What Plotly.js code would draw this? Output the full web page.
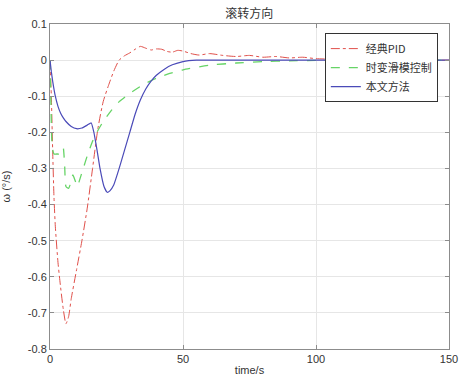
<!DOCTYPE html>
<html>
<head>
<meta charset="utf-8">
<script src="https://cdn.plot.ly/plotly-3.0.1.min.js"></script>
<style>html,body{margin:0;padding:0;background:#fff;}#chart{width:459px;height:376px;}</style>
</head>
<body>
<div id="chart"></div>
<script>
const seriesNames = ["经典PID", "时变滑模控制", "本文方法"];

const pidT = [0,0.5,1,1.5,2,3,4,5,6,7,8,10,12,14,16,18,20,22,24,26,28,30,32,34,36,38,40,42,44,46,48,50,53,56,60,65,70,75,80,85,90,95,100,110,120,130,140,150];
const pidV = [0,-0.1,-0.25,-0.38,-0.46,-0.56,-0.63,-0.69,-0.73,-0.71,-0.66,-0.58,-0.5,-0.41,-0.3,-0.19,-0.115,-0.07,-0.03,0.0,0.012,0.02,0.03,0.038,0.033,0.028,0.031,0.03,0.024,0.022,0.027,0.025,0.018,0.014,0.018,0.013,0.01,0.013,0.008,0.01,0.006,0.008,0.004,0.002,0.001,0,0,0];

const smcT = [0,0.3,0.8,1.5,2.5,3.5,4.5,5,5.5,6,7,8,8.6,9.5,10.3,11,12.5,14,16,18,20,23,26,30,35,40,45,50,60,70,80,90,100,120,150];
const smcV = [0,-0.1,-0.24,-0.26,-0.26,-0.26,-0.255,-0.243,-0.29,-0.35,-0.355,-0.335,-0.318,-0.335,-0.35,-0.335,-0.3,-0.265,-0.225,-0.195,-0.17,-0.14,-0.115,-0.092,-0.068,-0.05,-0.037,-0.027,-0.014,-0.008,-0.004,-0.002,-0.001,0,0];

const ourT = [0,0.5,1,2,3,4,5,6,8,10,12,14,15.5,16.5,17.7,18.8,20.3,21.5,22.5,24,26,28,30,32,34,36,38,40,43,46,50,55,60,80,100,150];
const ourV = [0,-0.032,-0.058,-0.1,-0.128,-0.147,-0.16,-0.17,-0.184,-0.19,-0.188,-0.18,-0.174,-0.2,-0.25,-0.3,-0.35,-0.366,-0.362,-0.345,-0.3,-0.25,-0.2,-0.15,-0.11,-0.08,-0.058,-0.042,-0.025,-0.013,-0.004,0,0,0,0,0];

const xTicks = [0,50,100,150];
const yTicks = [0.1,0,-0.1,-0.2,-0.3,-0.4,-0.5,-0.6,-0.7,-0.8];
const yTickText = ["0.1","0","-0.1","-0.2","-0.3","-0.4","-0.5","-0.6","-0.7","-0.8"];

const traces = [
  {x: pidT, y: pidV, name: seriesNames[0], mode: "lines", line: {color: "#e0504a", width: 1, dash: "dashdot", shape: "spline", smoothing: 0.6}},
  {x: smcT, y: smcV, name: seriesNames[1], mode: "lines", line: {color: "#66d466", width: 1.3, dash: "dash", shape: "spline", smoothing: 0.5}},
  {x: ourT, y: ourV, name: seriesNames[2], mode: "lines", line: {color: "#4a4ab8", width: 1.2, shape: "spline", smoothing: 0.4}}
];

const axisCommon = {
  showline: true, linecolor: "#8c8c8c", linewidth: 1, mirror: "ticks",
  ticks: "inside", ticklen: 4, tickcolor: "#8c8c8c",
  showgrid: true, gridcolor: "#e6e6e6", zeroline: false,
  tickfont: {family: "Liberation Sans, Arial, sans-serif", size: 11, color: "#333"}
};

const layout = {
  width: 459, height: 376,
  margin: {l: 50, r: 10, t: 24, b: 27},
  paper_bgcolor: "#fff", plot_bgcolor: "#fff",
  title: {text: "滚转方向", x: 0.543, xanchor: "center", y: 0.963, yanchor: "middle",
          font: {family: "Noto Sans CJK SC, sans-serif", size: 12, color: "#333"}},
  xaxis: Object.assign({}, axisCommon, {range: [0,150], tickvals: xTicks, ticktext: xTicks.map(String),
          title: {text: "time/s", standoff: 4, font: {family: "Liberation Sans, Arial, sans-serif", size: 11, color: "#333"}}}),
  yaxis: Object.assign({}, axisCommon, {range: [-0.8,0.1], tickvals: yTicks, ticktext: yTickText,
          title: {text: "ω (°/s)", standoff: 14, font: {family: "Liberation Sans, Arial, sans-serif", size: 11, color: "#333"}}}),
  legend: {x: 0.972, xanchor: "right", y: 0.972, yanchor: "top", bgcolor: "#fff",
           bordercolor: "#333", borderwidth: 1, itemwidth: 30, tracegroupgap: 0,
           font: {family: "Noto Sans CJK SC, sans-serif", size: 11, color: "#333"}},
  showlegend: true
};

Plotly.newPlot("chart", traces, layout, {displayModeBar: false, staticPlot: true});
</script>
</body>
</html>
